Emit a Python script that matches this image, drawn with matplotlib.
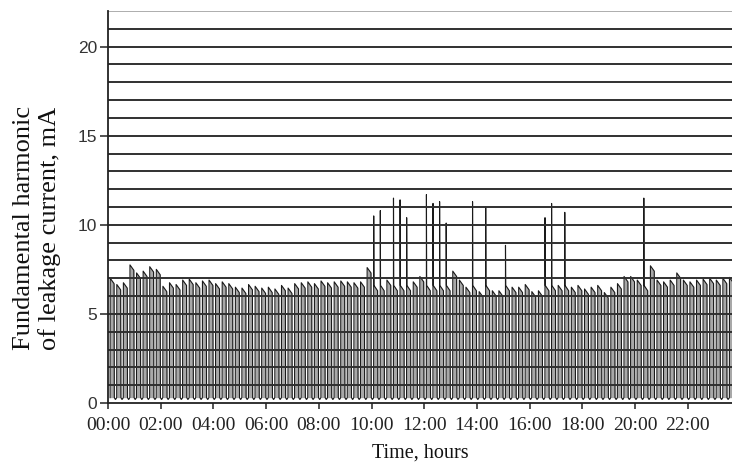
import numpy as np
import matplotlib
matplotlib.use("Agg")
import matplotlib.pyplot as plt

# pulse train: one pulse every 15 minutes, peak value of each pulse (mA)
pulse_start = 0.08          # hours
pulse_step = 0.25           # hours
peaks = [7.0, 6.65, 6.75, 7.75, 7.3, 7.4, 7.65, 7.5, 6.55, 6.75, 6.65, 6.9,
         6.95, 6.75, 6.85, 6.9, 6.7, 6.8, 6.7, 6.5, 6.45, 6.65, 6.55,
         6.45, 6.5, 6.4, 6.6, 6.45, 6.7, 6.75, 6.8, 6.7, 6.85, 6.75, 6.8,
         6.85, 6.8, 6.75, 6.8,
         7.6, 10.5, 10.8, 6.9, 11.5, 11.4, 10.4, 6.8, 7.1, 11.7, 11.2, 11.3,
         10.1, 7.4, 6.9, 6.5, 11.3, 6.25, 11.0, 6.3, 6.3, 8.85, 6.5, 6.5,
         6.65, 6.25, 6.3, 10.4, 11.2, 6.6, 10.7, 6.5, 6.6, 6.4, 6.5, 6.6,
         6.2, 6.5, 6.7, 7.1, 7.1, 6.9, 11.5, 7.7, 6.9, 6.8, 6.9, 7.3, 6.9,
         6.8, 6.9, 6.95, 7.0, 6.9, 7.0, 7.05]
low_level = 0.3

x_ticks = list(range(0, 23, 2))
x_labels = [f"{h:02d}:00" for h in x_ticks]
y_ticks = [0, 5, 10, 15, 20]

# outline of each pulse
t, y = [], []
for i, p in enumerate(peaks):
    s = pulse_start + i * pulse_step
    if p > 8:
        t += [s, s + 0.004, s + 0.012, s + 0.15, s + 0.16]
        y += [low_level, p, 6.6, 6.3, low_level]
    else:
        t += [s, s + 0.004, s + 0.15, s + 0.16]
        y += [low_level, p, p - 0.3, low_level]
    t += [s + 0.2]
    y += [low_level - 0.1]
t = np.array(t)
y = np.array(y)

fig = plt.figure(figsize=(7.32, 4.66), dpi=100)
ax = fig.add_axes([108 / 732, 63 / 466, 624 / 732, 392 / 466])

ax.fill_between(t, y, low_level, color="#a8a8a8", lw=0, zorder=1)
ax.plot(t, y, color="#1a1a1a", lw=0.8, zorder=2)

for v in range(1, 22):
    ax.axhline(v, color="#303030", lw=1.4, zorder=3)
ax.axhline(22, color="#a0a0a0", lw=1.2, zorder=3)

ax.set_xlim(0, 23.68)
ax.set_ylim(0, 22)
ax.set_xticks(x_ticks)
ax.set_xticklabels(x_labels, family="Liberation Serif", fontsize=14, color="#222222")
ax.set_yticks(y_ticks)
ax.set_yticklabels([str(v) for v in y_ticks], family="Liberation Sans",
                   fontsize=12.5, color="#333333")
ax.tick_params(axis="x", direction="out", length=4, width=1.2, pad=6, color="#333333")
ax.tick_params(axis="y", direction="out", length=6, width=1.2, pad=2, color="#333333")

for side in ["top", "right"]:
    ax.spines[side].set_visible(False)
for side in ["left", "bottom"]:
    ax.spines[side].set_color("#222222")
    ax.spines[side].set_linewidth(1.3)
    ax.spines[side].set_zorder(4)

fig.text(420 / 732, 8 / 466, "Time, hours", family="Liberation Serif",
         fontsize=14.5, ha="center", va="baseline", color="#111111")
fig.text(37 / 732, 1 - 228 / 466, "Fundamental harmonic\nof leakage current, mA",
         family="Liberation Serif", fontsize=19, rotation=90, ha="center",
         va="center", multialignment="center", linespacing=1.15, color="#111111")

fig.savefig("out.png", dpi=100)
